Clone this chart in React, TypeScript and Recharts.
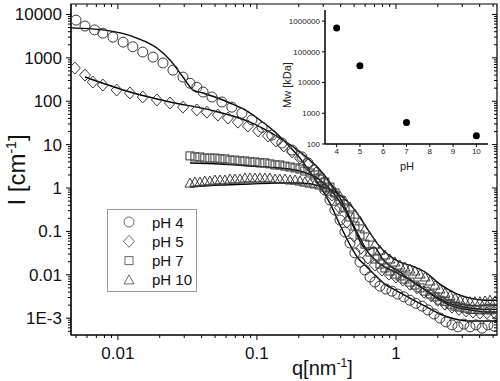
import React from "react";
import { ComposedChart, ScatterChart, Scatter, Line, XAxis, YAxis, Legend, ReferenceArea, ReferenceLine } from "recharts";

const FONT = '"Liberation Sans", Arial, Helvetica, sans-serif';
const MK = "#3a3a3a";

// pH 4 (circles)
const qPH4 = [0.005, 0.0058, 0.0068, 0.0078, 0.0092, 0.0109, 0.0128, 0.0151, 0.0179, 0.0211, 0.0249, 0.0294, 0.033, 0.037, 0.041, 0.0475, 0.056, 0.066, 0.078, 0.092, 0.109, 0.128, 0.151, 0.179, 0.211, 0.233, 0.257, 0.284, 0.308, 0.335, 0.364, 0.396, 0.43, 0.467, 0.507, 0.551, 0.598, 0.65, 0.706, 0.767, 0.847, 0.936, 1.03, 1.14, 1.26, 1.39, 1.54, 1.7, 1.88, 2.07, 2.29, 2.53, 2.79, 3.08, 3.41, 3.76, 4.16, 4.59, 5.07];
const iPH4 = [7400, 5400, 4400, 3700, 3000, 2300, 1800, 1360, 1040, 760, 520, 360, 260, 210, 163, 125, 96, 73, 53, 37, 25, 16.6, 10.9, 7.5, 5.2, 3.8, 2.6, 1.53, 0.9, 0.53, 0.31, 0.183, 0.097, 0.054, 0.032, 0.0197, 0.0129, 0.0089, 0.0068, 0.0055, 0.0047, 0.0042, 0.0036, 0.0031, 0.0026, 0.0022, 0.0019, 0.00155, 0.00125, 0.00101, 0.00082, 0.0007, 0.00063, 0.00073, 0.00063, 0.0007, 0.00059, 0.0007, 0.00066];

// pH 5 (diamonds)
const qPH5 = [0.0049, 0.0058, 0.0066, 0.0078, 0.0098, 0.0122, 0.0151, 0.0191, 0.0237, 0.0294, 0.037, 0.0437, 0.0524, 0.0619, 0.073, 0.0862, 0.102, 0.12, 0.137, 0.156, 0.179, 0.204, 0.233, 0.266, 0.303, 0.346, 0.396, 0.444, 0.499, 0.56, 0.629, 0.706, 0.793, 0.89, 1.0, 1.12, 1.26, 1.42, 1.59, 1.79, 2.0, 2.25, 2.53, 2.84, 3.19, 3.58, 4.02, 4.51, 5.07];
const iPH5 = [580, 400, 277, 236, 181, 155, 125, 107, 91, 73, 63, 56, 48, 41, 33, 26.8, 20.6, 15.8, 12.1, 9.3, 6.8, 4.9, 3.39, 2.22, 1.3, 0.69, 0.35, 0.165, 0.078, 0.041, 0.0244, 0.0168, 0.0129, 0.0104, 0.0089, 0.0076, 0.0061, 0.005, 0.004, 0.0033, 0.0026, 0.0021, 0.0018, 0.0016, 0.00147, 0.00139, 0.00132, 0.00132, 0.00139];

// pH 7 (squares)
const qPH7 = [0.033, 0.0358, 0.0389, 0.0422, 0.0459, 0.0499, 0.0542, 0.0589, 0.064, 0.0695, 0.0755, 0.082, 0.0891, 0.0968, 0.105, 0.114, 0.124, 0.135, 0.146, 0.159, 0.173, 0.188, 0.204, 0.221, 0.241, 0.261, 0.284, 0.308, 0.335, 0.364, 0.396, 0.43, 0.467, 0.507, 0.551, 0.598, 0.65, 0.706, 0.767, 0.833, 0.905, 0.983, 1.07, 1.16, 1.26, 1.37, 1.49, 1.62, 1.76, 1.91, 2.07, 2.25, 2.45, 2.66, 2.89, 3.14, 3.41, 3.7, 4.02, 4.37, 4.75, 5.15];
const iPH7 = [5.5, 5.2, 5.2, 4.9, 4.9, 4.9, 4.7, 4.7, 4.4, 4.4, 4.2, 4.2, 4.0, 4.0, 3.8, 3.8, 3.6, 3.4, 3.4, 3.2, 3.05, 2.9, 2.74, 2.46, 2.22, 2.0, 1.7, 1.37, 1.05, 0.77, 0.53, 0.35, 0.215, 0.133, 0.083, 0.051, 0.0335, 0.0231, 0.0177, 0.0144, 0.0122, 0.0104, 0.0094, 0.008, 0.0068, 0.0058, 0.005, 0.0042, 0.0036, 0.0031, 0.0026, 0.0024, 0.0021, 0.0019, 0.0018, 0.0017, 0.0016, 0.0016, 0.00155, 0.0016, 0.00155, 0.0016];

// pH 10 (triangles)
const qPH10 = [0.033, 0.0358, 0.0389, 0.0422, 0.0459, 0.0499, 0.0542, 0.0589, 0.064, 0.0695, 0.0755, 0.082, 0.0891, 0.0968, 0.105, 0.114, 0.124, 0.135, 0.146, 0.159, 0.173, 0.188, 0.204, 0.221, 0.241, 0.261, 0.284, 0.308, 0.335, 0.364, 0.396, 0.43, 0.467, 0.507, 0.551, 0.598, 0.65, 0.706, 0.767, 0.833, 0.905, 0.983, 1.07, 1.16, 1.26, 1.37, 1.49, 1.62, 1.76, 1.91, 2.07, 2.25, 2.45, 2.66, 2.89, 3.14, 3.41, 3.7, 4.02, 4.37, 4.75, 5.15];
const iPH10 = [1.3, 1.37, 1.37, 1.45, 1.45, 1.53, 1.53, 1.53, 1.61, 1.61, 1.61, 1.7, 1.7, 1.7, 1.7, 1.7, 1.7, 1.61, 1.61, 1.61, 1.53, 1.53, 1.45, 1.37, 1.3, 1.24, 1.17, 1.05, 0.95, 0.81, 0.65, 0.5, 0.365, 0.25, 0.174, 0.114, 0.074, 0.051, 0.037, 0.0286, 0.0231, 0.0197, 0.0168, 0.0151, 0.0136, 0.0122, 0.0104, 0.0089, 0.0072, 0.0058, 0.0047, 0.0038, 0.0033, 0.0029, 0.0026, 0.0025, 0.0024, 0.0024, 0.0024, 0.0025, 0.0026, 0.0025];

// fitted curves
const fitQ4 = [0.0046, 0.0078, 0.0137, 0.0191, 0.0237, 0.0294, 0.0347, 0.041, 0.0499, 0.064, 0.082, 0.105, 0.135, 0.173, 0.204, 0.241, 0.284, 0.335, 0.396, 0.467, 0.533, 0.608, 0.706, 0.833, 0.983, 1.26, 1.62, 2.07, 2.66, 3.41, 4.37, 5.33];
const fitI4 = [4900, 4400, 2860, 1680, 890, 361, 181, 155, 125, 91, 63, 37, 19.5, 8.8, 4.9, 2.34, 1.11, 0.45, 0.14, 0.049, 0.0244, 0.016, 0.0099, 0.0061, 0.0045, 0.0029, 0.0019, 0.00125, 0.00096, 0.00086, 0.00086, 0.00086];
const fitQ5 = [0.0058, 0.0122, 0.0237, 0.0459, 0.0891, 0.146, 0.204, 0.284, 0.396, 0.507, 0.629, 0.767, 0.983, 1.26, 1.62, 2.07, 2.66, 3.41, 4.37, 5.33];
const fitI5 = [361, 163, 96, 63, 33, 14.2, 6.8, 2.6, 0.59, 0.12, 0.0335, 0.0177, 0.0116, 0.0076, 0.0045, 0.0026, 0.0018, 0.00155, 0.00139, 0.00139];
const fitQ7 = [0.033, 0.0542, 0.0891, 0.146, 0.204, 0.284, 0.364, 0.43, 0.507, 0.569, 0.629, 0.695, 0.793, 0.905, 1.07, 1.26, 1.62, 2.07, 2.66, 3.41, 4.37, 5.33];
const fitI7 = [3.77, 3.57, 3.21, 2.89, 2.46, 1.53, 0.69, 0.31, 0.108, 0.049, 0.037, 0.044, 0.0244, 0.016, 0.0116, 0.0076, 0.0045, 0.0028, 0.002, 0.0017, 0.0016, 0.0016];
const fitQ10 = [0.033, 0.0542, 0.0891, 0.146, 0.204, 0.284, 0.396, 0.507, 0.629, 0.767, 0.905, 1.07, 1.3, 1.62, 2.07, 2.66, 3.41, 4.37, 5.33];
const fitI10 = [1.05, 1.17, 1.24, 1.3, 1.3, 1.11, 0.69, 0.31, 0.108, 0.044, 0.027, 0.0197, 0.016, 0.0116, 0.0061, 0.0038, 0.0029, 0.0026, 0.0026];

// inset: Mw vs pH
const insetPH = [4, 5, 7, 10];
const insetMw = [600000, 35000, 500, 185];

const legendNames = ["pH 4", "pH 5", "pH 7", "pH 10"];

const xTicks = [0.005, 0.006, 0.007, 0.008, 0.009, 0.01, 0.02, 0.03, 0.04, 0.05, 0.06, 0.07, 0.08, 0.09, 0.1, 0.2, 0.3, 0.4, 0.5, 0.6, 0.7, 0.8, 0.9, 1, 2, 3, 4, 5];
const xMajor = [0.01, 0.1, 1];
const xLabels = ["0.01", "0.1", "1"];
const yTicks = [0.0005, 0.0006, 0.0007, 0.0008, 0.0009, 0.001, 0.002, 0.003, 0.004, 0.005, 0.006, 0.007, 0.008, 0.009, 0.01, 0.02, 0.03, 0.04, 0.05, 0.06, 0.07, 0.08, 0.09, 0.1, 0.2, 0.3, 0.4, 0.5, 0.6, 0.7, 0.8, 0.9, 1, 2, 3, 4, 5, 6, 7, 8, 9, 10, 20, 30, 40, 50, 60, 70, 80, 90, 100, 200, 300, 400, 500, 600, 700, 800, 900, 1000, 2000, 3000, 4000, 5000, 6000, 7000, 8000, 9000, 10000];
const yMajor = [0.001, 0.01, 0.1, 1, 10, 100, 1000, 10000];
const yLabels = ["1E-3", "0.01", "0.1", "1", "10", "100", "1000", "10000"];
const insetXTicks = [4, 5, 6, 7, 8, 9, 10];
const insetYTicks = [100, 1000, 10000, 100000, 1000000];

// plot frame (from chart margins and axis sizes below)
const PLOT_TOP = 4;
const PLOT_RIGHT = 497;

const zip = (q: number[], v: number[]) => q.map((x, k) => ({ q: x, I: v[k] }));
const majorIndex = (list: number[], v: number) => list.findIndex((m) => Math.abs(m - v) / m < 1e-6);

// bottom ticks, mirrored inward on the top edge
function BottomTick({ x, y, payload }: any) {
  const k = majorIndex(xMajor, payload.value);
  const len = k >= 0 ? 5 : 3;
  return (
    <g>
      <line x1={x} x2={x} y1={y} y2={y + len} stroke="#000" />
      <line x1={x} x2={x} y1={PLOT_TOP} y2={PLOT_TOP + len} stroke="#000" />
      {k >= 0 && (
        <text x={x} y={y + 24} textAnchor="middle" fontSize={17} fontFamily={FONT} fill="#111">{xLabels[k]}</text>
      )}
    </g>
  );
}

// left ticks, mirrored inward on the right edge
function LeftTick({ x, y, payload }: any) {
  const k = majorIndex(yMajor, payload.value);
  const len = k >= 0 ? 5 : 3;
  return (
    <g>
      <line x1={x} x2={x - len} y1={y} y2={y} stroke="#000" />
      <line x1={PLOT_RIGHT} x2={PLOT_RIGHT - len} y1={y} y2={y} stroke="#000" />
      {k >= 0 && (
        <text x={x - 9} y={y + 6} textAnchor="end" fontSize={17} fontFamily={FONT} fill="#111">{yLabels[k]}</text>
      )}
    </g>
  );
}

const Circle = ({ cx, cy }: any) => <circle cx={cx} cy={cy} r={5} fill="none" stroke={MK} strokeWidth={1} />;
const Diamond = ({ cx, cy }: any) => (
  <path d={`M${cx},${cy - 6}L${cx + 5.5},${cy}L${cx},${cy + 6}L${cx - 5.5},${cy}Z`} fill="none" stroke={MK} strokeWidth={1} />
);
const Square = ({ cx, cy }: any) => <rect x={cx - 4} y={cy - 4} width={8} height={8} fill="none" stroke={MK} strokeWidth={1} />;
const Triangle = ({ cx, cy }: any) => (
  <path d={`M${cx},${cy - 5}L${cx + 5},${cy + 4}L${cx - 5},${cy + 4}Z`} fill="none" stroke={MK} strokeWidth={1} />
);
const Dot = ({ cx, cy }: any) => <circle cx={cx} cy={cy} r={3.5} fill="#000" />;

const legendShapes = [Circle, Diamond, Square, Triangle];

function LegendBox() {
  return (
    <svg width={90} height={83} style={{ display: "block" }}>
      <rect x={0.5} y={0.5} width={89} height={82} fill="#fff" stroke="#999" />
      {legendNames.map((name, k) => {
        const S = legendShapes[k];
        const cy = 13 + k * 19.3;
        return (
          <g key={name}>
            <g opacity={0.75}><S cx={22} cy={cy} /></g>
            <text x={45} y={cy + 5.5} fontSize={15} fontFamily={FONT} fill="#111">{name}</text>
          </g>
        );
      })}
    </svg>
  );
}

const XTitle = () => (
  <text x={292} y={375} fontSize={20} fontFamily={FONT} fill="#111">
    q[nm<tspan dy={-8} fontSize={12}>-1</tspan><tspan dy={8}>]</tspan>
  </text>
);

const YTitle = () => (
  <text x={25} y={170} transform="rotate(-90, 25, 170)" textAnchor="middle" fontSize={24} fontFamily={FONT} fill="#111">
    I [cm<tspan dy={-9} fontSize={14}>-1</tspan><tspan dy={9}>]</tspan>
  </text>
);

function Inset() {
  const data = insetPH.map((p, k) => ({ ph: p, mw: insetMw[k] }));
  return (
    <ScatterChart width={230} height={185} margin={{ top: 10, right: 12, bottom: 0, left: 0 }}>
      <XAxis
        type="number"
        dataKey="ph"
        domain={[3.5, 10.5]}
        ticks={insetXTicks}
        interval={0}
        tickSize={3}
        tickMargin={1}
        stroke="#000"
        axisLine={{ stroke: "#000" }}
        tick={{ fontSize: 8, fill: "#222", fontFamily: FONT }}
        height={41}
        label={{ content: () => <text x={137} y={170} textAnchor="middle" fontSize={11} fontFamily={FONT} fill="#222">pH</text> }}
      />
      <YAxis
        type="number"
        dataKey="mw"
        scale="log"
        domain={[100, 2300000]}
        allowDataOverflow
        ticks={insetYTicks}
        interval={0}
        tickSize={3}
        tickMargin={2}
        stroke="#000"
        axisLine={{ stroke: "#000" }}
        width={55}
        tick={{ fontSize: 8, fill: "#222", fontFamily: FONT }}
        label={{ content: () => <text x={21} y={85} transform="rotate(-90, 21, 85)" textAnchor="middle" fontSize={11} fontFamily={FONT} fill="#222">Mw [kDa]</text> }}
      />
      <ReferenceLine x={3.5} stroke="#000" strokeWidth={1} />
      <ReferenceLine y={100} stroke="#000" strokeWidth={1} />
      <Scatter data={data} shape={Dot} isAnimationActive={false} />
    </ScatterChart>
  );
}

export default function App() {
  const xDomain = [0.0046, 5.33];
  const yDomain = [0.00041, 17400];
  return (
    <div style={{ position: "absolute", left: 0, top: 0, width: 500, height: 381, background: "#fff" }}>
      <ComposedChart width={500} height={381} margin={{ top: PLOT_TOP, right: 500 - PLOT_RIGHT, bottom: 0, left: 0 }}>
        <XAxis
          type="number"
          dataKey="q"
          scale="log"
          domain={xDomain}
          allowDataOverflow
          ticks={xTicks}
          interval={0}
          tickSize={0}
          tickMargin={0}
          tick={<BottomTick />}
          height={46}
          stroke="#000"
          axisLine={{ stroke: "#000" }}
          label={{ content: XTitle }}
        />
        <YAxis
          type="number"
          dataKey="I"
          scale="log"
          domain={yDomain}
          allowDataOverflow
          ticks={yTicks}
          interval={0}
          tickSize={0}
          tickMargin={0}
          tick={<LeftTick />}
          width={71}
          stroke="#000"
          axisLine={{ stroke: "#000" }}
          label={{ content: YTitle }}
        />
        <ReferenceArea x1={xDomain[0]} x2={xDomain[1]} y1={yDomain[0]} y2={yDomain[1]} fill="none" stroke="#000" strokeWidth={1.2} ifOverflow="visible" />
        <Scatter name="pH 4" data={zip(qPH4, iPH4)} shape={Circle} isAnimationActive={false} />
        <Scatter name="pH 5" data={zip(qPH5, iPH5)} shape={Diamond} isAnimationActive={false} />
        <Scatter name="pH 7" data={zip(qPH7, iPH7)} shape={Square} isAnimationActive={false} />
        <Scatter name="pH 10" data={zip(qPH10, iPH10)} shape={Triangle} isAnimationActive={false} />
        <Line data={zip(fitQ4, fitI4)} dataKey="I" type="monotone" stroke="#000" strokeWidth={1.4} dot={false} isAnimationActive={false} legendType="none" />
        <Line data={zip(fitQ5, fitI5)} dataKey="I" type="monotone" stroke="#000" strokeWidth={1.4} dot={false} isAnimationActive={false} legendType="none" />
        <Line data={zip(fitQ7, fitI7)} dataKey="I" type="monotone" stroke="#000" strokeWidth={1.4} dot={false} isAnimationActive={false} legendType="none" />
        <Line data={zip(fitQ10, fitI10)} dataKey="I" type="monotone" stroke="#000" strokeWidth={1.4} dot={false} isAnimationActive={false} legendType="none" />
        <Legend
          layout="horizontal"
          verticalAlign="middle"
          align="center"
          content={() => <LegendBox />}
          wrapperStyle={{ left: 107, top: 209, width: 90, height: 83 }}
        />
      </ComposedChart>
      <div style={{ position: "absolute", left: 270, top: 0 }}>
        <Inset />
      </div>
    </div>
  );
}
